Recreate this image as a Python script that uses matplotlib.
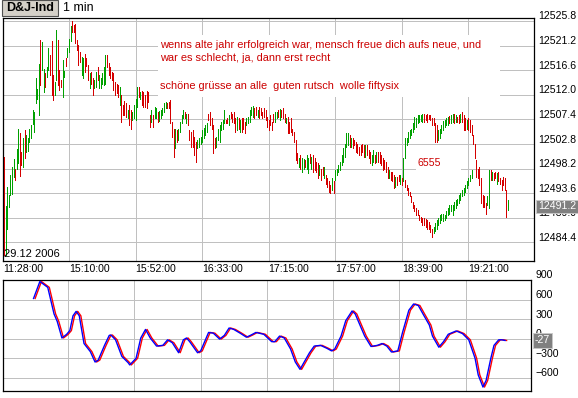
import matplotlib
matplotlib.use("Agg")
import matplotlib.pyplot as plt
from matplotlib.patches import Rectangle
from matplotlib import transforms
import numpy as np

plt.rcParams['font.family'] = ['Liberation Sans', 'DejaVu Sans']

# ---------------- data ----------------
instrument = "D&J-Ind"
interval = "1 min"
date_label = "29.12 2006"

time_labels = ["11:28:00", "15:10:00", "15:52:00", "16:33:00", "17:15:00",
               "17:57:00", "18:39:00", "19:21:00"]
time_idx = [0, 41, 83, 125, 167, 209, 251, 293]

price_grid = [12525.8, 12521.2, 12516.6, 12512.0, 12507.4, 12502.8,
              12498.2, 12493.6, 12489.0, 12484.4]
last_price = 12491.2

osc_grid = [900, 600, 300, 0, -300, -600]

bar_high = [
    # 0-63
    12500.4, 12491.2, 12494.8, 12493.3, 12497.0, 12498.6, 12500.0, 12498.1, 12501.8, 12505.7,
    12504.9, 12501.4, 12503.9, 12505.4, 12504.4, 12504.0, 12505.6, 12506.3, 12509.1, 12508.8,
    12515.1, 12513.1, 12517.7, 12522.2, 12521.9, 12516.9, 12516.0, 12517.2, 12520.7, 12519.4,
    12522.0, 12515.7, 12514.4, 12524.1, 12522.2, 12516.6, 12514.8, 12518.5, 12516.4, 12518.8,
    12520.7, 12522.5, 12524.9, 12525.8, 12525.0, 12525.3, 12522.2, 12521.4, 12520.0, 12519.1,
    12518.8, 12519.7, 12518.8, 12517.6, 12516.0, 12516.3, 12515.1, 12514.8, 12516.3, 12517.2,
    12515.7, 12515.1, 12516.0, 12517.2,
    # 64-129
    12519.4, 12519.4, 12517.9, 12517.2, 12516.3, 12516.0, 12514.4, 12514.1, 12513.8, 12513.5,
    12511.9, 12510.1, 12510.8, 12510.4, 12509.1, 12510.1, 12509.1, 12508.8, 12510.1, 12511.3,
    12513.5, 12513.5, 12512.6, 12512.7, 12512.6, 12511.9, 12512.7, 12512.6, 12508.2, 12509.1,
    12508.2, 12509.8, 12509.5, 12508.8, 12509.0, 12509.1, 12509.5, 12510.4, 12510.6, 12510.4,
    12510.7, 12511.0, 12507.0, 12505.7, 12505.7, 12505.4, 12505.7, 12507.0, 12508.3, 12509.1,
    12508.8, 12508.5, 12508.5, 12505.4, 12505.1, 12505.4, 12504.2, 12503.2, 12503.5, 12503.9,
    12504.2, 12505.4, 12505.8, 12506.3, 12506.7, 12508.5,
    # 130-195
    12508.8, 12507.6, 12506.3, 12503.9, 12504.2, 12505.7, 12506.3, 12507.0, 12507.3, 12509.1,
    12507.3, 12507.6, 12508.2, 12508.8, 12508.5, 12508.8, 12507.6, 12507.9, 12507.6, 12507.3,
    12507.6, 12507.6, 12507.0, 12507.6, 12507.9, 12509.1, 12509.8, 12510.0, 12509.5, 12509.8,
    12509.1, 12509.8, 12509.6, 12508.8, 12509.6, 12509.1, 12507.9, 12507.3, 12508.2, 12507.0,
    12508.5, 12508.8, 12508.8, 12509.1, 12509.3, 12509.1, 12509.5, 12508.5, 12507.6, 12507.9,
    12507.0, 12507.6, 12505.7, 12505.1, 12503.5, 12501.1, 12500.1, 12500.7, 12500.1, 12500.0,
    12499.8, 12500.7, 12500.1, 12500.9, 12500.4, 12500.7,
    # 196-250
    12500.1, 12499.5, 12499.2, 12498.9, 12498.2, 12498.6, 12498.6, 12497.0, 12496.4, 12495.8,
    12495.1, 12496.4, 12495.8, 12497.9, 12498.2, 12498.9, 12499.5, 12500.7, 12502.0, 12502.9,
    12504.8, 12504.8, 12504.5, 12503.9, 12503.9, 12503.5, 12503.2, 12502.9, 12502.3, 12502.6,
    12502.9, 12502.6, 12502.6, 12502.6, 12501.7, 12501.4, 12500.7, 12501.7, 12500.7, 12501.4,
    12501.4, 12501.4, 12500.7, 12500.1, 12499.8, 12499.5, 12498.6, 12497.9, 12497.6, 12497.6,
    12497.0, 12496.7, 12496.7, 12497.0, 12497.0,
    # 251-318
    12496.4, 12500.1, 12503.9, 12504.0, 12505.1, 12505.4, 12505.7, 12506.7, 12507.9, 12507.6,
    12508.2, 12508.2, 12508.3, 12508.5, 12508.5, 12508.2, 12508.5, 12508.3, 12508.2, 12507.6,
    12507.6, 12506.7, 12506.3, 12505.4, 12505.7, 12506.3, 12507.1, 12507.3, 12507.6, 12507.9,
    12508.1, 12508.2, 12508.5, 12508.5, 12508.2, 12507.9, 12508.2, 12508.5, 12508.7, 12508.2,
    12507.6, 12507.3, 12507.6, 12507.3, 12506.3, 12504.5, 12502.9, 12499.8, 12498.2, 12498.6,
    12496.4, 12493.3, 12493.0, 12491.7, 12493.0, 12497.9, 12497.9, 12497.6, 12497.3, 12497.6,
    12497.3, 12497.6, 12496.4, 12496.1, 12496.7, 12496.5, 12494.2, 12492.3,
]

bar_low = [
    # 0-63
    12482.1, 12482.1, 12487.0, 12491.1, 12493.3, 12493.4, 12496.7, 12496.1, 12498.2, 12499.2,
    12496.9, 12498.9, 12498.6, 12500.2, 12501.4, 12501.5, 12503.2, 12503.9, 12506.5, 12505.1,
    12510.4, 12511.3, 12508.2, 12513.8, 12516.6, 12512.6, 12513.5, 12515.4, 12516.6, 12515.7,
    12511.9, 12511.0, 12511.9, 12514.8, 12513.8, 12512.9, 12513.5, 12511.6, 12515.4, 12517.4,
    12519.1, 12520.0, 12522.0, 12523.7, 12523.8, 12521.6, 12520.4, 12517.6, 12518.2, 12515.7,
    12515.1, 12516.3, 12517.4, 12514.8, 12513.3, 12514.1, 12511.9, 12513.2, 12513.5, 12514.8,
    12513.2, 12513.3, 12514.1, 12513.8,
    # 64-129
    12514.1, 12517.2, 12515.7, 12515.1, 12514.8, 12512.9, 12511.9, 12512.3, 12511.6, 12510.1,
    12507.0, 12508.2, 12508.2, 12507.9, 12507.6, 12506.3, 12505.7, 12507.3, 12507.6, 12507.3,
    12509.8, 12511.6, 12511.3, 12510.1, 12509.8, 12509.8, 12509.5, 12510.7, 12506.0, 12507.0,
    12506.0, 12507.6, 12507.6, 12507.0, 12507.1, 12507.6, 12508.2, 12508.8, 12509.5, 12509.5,
    12509.5, 12506.7, 12504.2, 12500.4, 12502.0, 12503.2, 12503.5, 12505.1, 12506.7, 12507.6,
    12507.6, 12506.7, 12506.3, 12503.5, 12502.3, 12502.3, 12500.7, 12499.5, 12502.0, 12502.3,
    12502.9, 12503.2, 12503.9, 12504.5, 12505.1, 12507.3,
    # 130-195
    12506.3, 12505.7, 12501.1, 12502.0, 12502.3, 12503.5, 12503.2, 12505.4, 12505.7, 12506.7,
    12506.7, 12506.7, 12506.3, 12507.6, 12507.0, 12506.7, 12505.1, 12505.4, 12505.7, 12505.1,
    12505.1, 12505.7, 12504.8, 12506.3, 12506.7, 12507.0, 12508.2, 12507.9, 12507.6, 12508.2,
    12507.9, 12507.6, 12508.2, 12507.6, 12507.9, 12507.3, 12506.0, 12505.4, 12506.3, 12505.4,
    12507.0, 12507.0, 12507.6, 12507.9, 12507.3, 12507.9, 12507.6, 12507.0, 12506.7, 12504.8,
    12504.8, 12505.1, 12504.5, 12503.2, 12499.8, 12499.2, 12498.6, 12498.2, 12497.6, 12498.2,
    12498.6, 12498.2, 12497.3, 12499.2, 12498.2, 12497.6,
    # 196-250
    12497.9, 12497.6, 12496.4, 12497.0, 12496.1, 12497.0, 12496.4, 12495.4, 12494.8, 12493.9,
    12493.6, 12494.2, 12493.6, 12496.1, 12497.0, 12497.6, 12497.9, 12498.9, 12499.5, 12500.4,
    12502.3, 12502.6, 12502.3, 12502.3, 12502.0, 12502.6, 12501.4, 12501.1, 12500.7, 12500.7,
    12501.4, 12500.4, 12500.4, 12500.7, 12500.1, 12499.2, 12498.9, 12499.5, 12499.2, 12499.5,
    12499.5, 12499.2, 12498.9, 12497.9, 12498.2, 12497.6, 12496.4, 12496.4, 12496.1, 12495.8,
    12494.5, 12494.8, 12495.1, 12495.8, 12495.4,
    # 251-318
    12495.1, 12495.8, 12500.1, 12502.6, 12503.2, 12503.9, 12504.5, 12505.1, 12505.7, 12506.0,
    12506.7, 12507.0, 12507.1, 12507.0, 12507.0, 12507.3, 12507.0, 12507.5, 12507.3, 12506.3,
    12506.3, 12503.2, 12503.2, 12503.5, 12503.9, 12504.8, 12505.4, 12506.0, 12506.3, 12506.3,
    12506.7, 12506.7, 12507.0, 12506.7, 12507.0, 12507.0, 12506.7, 12507.0, 12507.0, 12505.4,
    12505.4, 12505.7, 12505.4, 12505.1, 12504.5, 12502.9, 12500.1, 12496.7, 12496.4, 12495.1,
    12491.7, 12491.1, 12491.1, 12489.8, 12491.4, 12490.8, 12496.1, 12496.1, 12496.1, 12496.4,
    12495.4, 12495.8, 12495.4, 12494.2, 12495.1, 12494.2, 12489.2, 12490.5,
]

# '+' = up bar (green), '-' = down bar (red)
bar_dir = (
    "-++++++-++" "--+-++++++" "+++-++-++-" "--++---++-" "+++------+" "+---+--++-" "++++"
    "+--------+" "----+--+++" "+-+------+" "-++-+++++-" "----+-++++" "-+------++" "+++++-"
    "----++++++" "--+----+-+" "---+++++--" "+---------" "-++-+---+-" "------+-++" "-++-+-"
    "---+--+---" "-+-+++++++" "++-+------" "--+---++-+" "-------+--" "-+--+"
    "-+++++++++" "++++------" "---+++++++" "-++-+--+--" "-+--------" "----++-+--" "+------+"
)

# heart drawn into the chart (lower half), starting at bar 253
heart_start = 253
heart_high = [
    12496.1, 12495.1, 12494.5, 12493.9, 12493.0, 12492.0, 12491.4, 12490.8, 12490.5, 12489.5,
    12489.2, 12488.9, 12488.9, 12488.8, 12488.6, 12488.3, 12487.7, 12487.0, 12487.3, 12488.0,
    12488.6, 12488.9, 12489.5, 12489.8, 12489.8, 12489.5, 12490.2, 12490.8, 12491.4, 12491.4,
    12491.4, 12492.0, 12492.3, 12492.6, 12493.3, 12493.6, 12494.2, 12494.5, 12495.1, 12495.8,
    12496.4, 12497.0, 12497.9,
]
heart_low = [
    12494.8, 12494.2, 12493.3, 12493.0, 12492.0, 12490.8, 12490.2, 12489.5, 12489.5, 12488.6,
    12488.3, 12487.7, 12487.7, 12487.3, 12487.0, 12487.0, 12486.4, 12485.5, 12486.1, 12486.5,
    12487.0, 12487.7, 12488.0, 12488.6, 12488.4, 12488.6, 12488.9, 12489.5, 12489.8, 12490.2,
    12489.5, 12490.5, 12490.8, 12491.4, 12491.7, 12492.3, 12493.0, 12493.3, 12493.9, 12494.5,
    12495.1, 12495.8, 12496.4,
]
heart_dir = "------------------" "+++++++++++++++++++++++++"
heart_label = "6555"

# oscillator (bar index, value); signal line = oscillator lagged one bar
osc_bar = [19, 23, 28, 32, 34, 37, 40, 42, 44, 46, 48, 51, 55, 58, 60, 64, 67, 68, 71, 75,
           79, 80, 84, 87, 90, 93, 97, 101, 104, 107, 111, 114, 116, 118, 123, 125, 130, 133,
           137, 140, 143, 146, 150, 154, 157, 160, 165, 170, 172, 175, 178, 182, 185, 188,
           190, 194, 197, 201, 205, 208, 210, 214, 217, 221, 223, 226, 229, 233, 237, 240,
           243, 246, 250, 253, 257, 260, 263, 266, 270, 272, 276, 279, 282, 287, 291, 295,
           299, 301, 304, 306, 309, 311, 314, 316, 318]
osc_val = [617, 877, 787, 379, 266, 11, 68, 125, 351, 419, 351, -74, -198, -357, -328, -102,
           51, 57, -17, -272, -368, -402, -300, 11, 142, 11, -113, -102, -17, -62, -215, -17,
           11, -45, -215, -187, 96, 85, -6, 51, 164, 142, 85, 23, 57, 96, 68, -45, -45, 40, 11,
           -158, -357, -470, -385, -215, -113, -102, -147, -187, -158, 40, 277, 425, 379, 209,
           40, -119, -102, -74, -113, -204, -187, 96, 436, 532, 509, 379, 209, 40, -130, -45,
           68, 119, 79, -17, -300, -555, -741, -640, -300, -102, -17, -17, -27]
signal_lag = 1

messages = ["wenns alte jahr erfolgreich war, mensch freue dich aufs neue, und",
            "war es schlecht, ja, dann erst recht",
            "schöne grüsse an alle  guten rutsch  wolle fiftysix"]

assert len(bar_high) == len(bar_low) == len(bar_dir)
assert len(heart_high) == len(heart_low) == len(heart_dir)
assert len(osc_bar) == len(osc_val)

# ---------------- style ----------------
UP = '#00a000'
DOWN = '#d40000'
GRID = '#c0c0c0'
TXT_RED = '#cc0000'

W, H = 578, 398
fig = plt.figure(figsize=(W / 100, H / 100), dpi=100)
fig.patch.set_facecolor('white')


def fx(px):
    return px / W


def fy(py):
    return 1 - py / H


def px_rect(x0, y0, x1, y1, **kw):
    return Rectangle((fx(x0), fy(y1)), (x1 - x0) / W, (y1 - y0) / H,
                     transform=fig.transFigure, **kw)


ax = fig.add_axes([fx(3), fy(261), (534.3 - 3) / W, (261 - 17.5) / H])
ax2 = fig.add_axes([fx(2.6), fy(390.5), (531.2 - 2.6) / W, (390.5 - 280) / H])

xlim = (-0.63, 334.6)
for a in (ax, ax2):
    a.set_xlim(*xlim)
    a.set_xticks([])
    a.set_yticks([])
    a.set_facecolor('white')
    for s in a.spines.values():
        s.set_linewidth(0.9)
        s.set_color('black')

ax.set_ylim(12480.94, 12526.45)
ax2.set_ylim(-794, 900)

# grid lines
GLW = 0.6
for p in price_grid:
    ax.axhline(p, color=GRID, lw=GLW, zorder=1, antialiased=False)
for t in time_idx[1:]:
    ax.axvline(t, color=GRID, lw=GLW, zorder=1, antialiased=False)
    ax2.axvline(t, color=GRID, lw=GLW, zorder=1, antialiased=False)
for v in osc_grid[1:]:
    ax2.axhline(v, color=GRID, lw=GLW, zorder=1, antialiased=False)

# white boxes behind the annotations
ax.add_patch(px_rect(158, 35, 500, 97, facecolor='white', edgecolor='none', zorder=1.5))
ax.add_patch(px_rect(416, 155, 461, 173, facecolor='white', edgecolor='none', zorder=1.5))

# bars
idx = np.arange(len(bar_high))
cols = [UP if c == '+' else DOWN for c in bar_dir]
ax.vlines(idx, bar_low, bar_high, colors=cols, linewidth=0.55, antialiased=False, zorder=3)
hidx = heart_start + np.arange(len(heart_high))
hcols = [UP if c == '+' else DOWN for c in heart_dir]
ax.vlines(hidx, heart_low, heart_high, colors=hcols, linewidth=0.55, antialiased=False, zorder=3)

# oscillator
ob = np.array(osc_bar)
ov = np.array(osc_val)
ax2.plot(ob + signal_lag, ov, color='#ff0000', lw=1.0, zorder=3)
ax2.plot(ob, ov, color='#0000ff', lw=1.0, zorder=4)

# annotations
msg_y = [45, 58.3, 86]
for m, y in zip(messages, msg_y):
    ax.text(fx(160), fy(y), m, transform=fig.transFigure, color=TXT_RED,
            fontsize=7.9, ha='left', va='center', zorder=5)
ax.text(fx(417), fy(162.5), heart_label, transform=fig.transFigure, color=TXT_RED,
        fontsize=7.6, ha='left', va='center', zorder=5)

ax.text(fx(4), fy(254), date_label, transform=fig.transFigure, color='black',
        fontsize=8, ha='left', va='center', zorder=5)

# right-hand price labels
lab_tr = transforms.offset_copy(ax.get_yaxis_transform(), fig=fig, x=4, y=4.5, units='dots')
for p in price_grid:
    ax.text(1.0, p, f"{p:.1f}", transform=lab_tr, ha='left', va='center',
            fontsize=7.6, clip_on=False, zorder=5)
cur_tr = transforms.offset_copy(ax.get_yaxis_transform(), fig=fig, x=3.5, y=0, units='dots')
ax.text(1.0, last_price, f"{last_price:.1f}", transform=cur_tr, ha='left', va='center',
        fontsize=7.6, color='white', clip_on=False, zorder=6,
        bbox=dict(boxstyle='square,pad=0.15', facecolor='#808080', edgecolor='#c8c8c8', lw=0.7))

lab_tr2 = transforms.offset_copy(ax2.get_yaxis_transform(), fig=fig, x=4.5, y=4.5, units='dots')
for v in osc_grid:
    ax2.text(1.0, v, f"{v}" if v >= 0 else f"\u2212{abs(v)}", transform=lab_tr2, ha='left',
             va='center', fontsize=7.6, clip_on=False, zorder=5)
cur_tr2 = transforms.offset_copy(ax2.get_yaxis_transform(), fig=fig, x=3.5, y=0, units='dots')
last_osc = osc_val[-1]
ax2.text(1.0, last_osc, f"{last_osc}", transform=cur_tr2, ha='left', va='center',
         fontsize=7.6, color='white', clip_on=False, zorder=6,
         bbox=dict(boxstyle='square,pad=0.2', facecolor='#808080', edgecolor='#c8c8c8', lw=0.7))

# time labels
time_tr = transforms.offset_copy(ax.get_xaxis_transform(), fig=fig, x=0, y=-8, units='dots')
for t, lab in zip(time_idx, time_labels):
    xx = xlim[0] if t == 0 else t
    ax.text(xx, 0, lab, transform=time_tr, ha='left', va='center', fontsize=7.6,
            clip_on=False)

# title
fig.add_artist(px_rect(2, 0.5, 58, 15.7, facecolor='#d4d0c8', edgecolor='#505050', lw=0.8))
fig.text(fx(30), fy(8.3), instrument, fontsize=9, fontweight='bold', ha='center', va='center')
fig.text(fx(63), fy(8.3), interval, fontsize=9, ha='left', va='center')

fig.savefig("out.png", dpi=100, facecolor='white')
